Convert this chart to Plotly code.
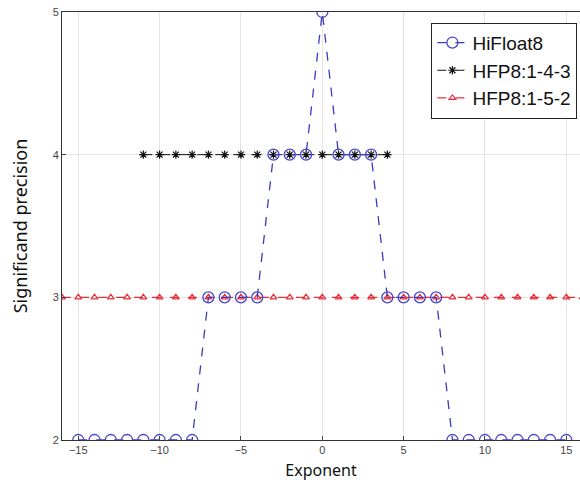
import plotly.graph_objects as go

# Exponent values and significand precision for each 8-bit format
hif8_exp = list(range(-15, 16))
hif8_prec = [2, 2, 2, 2, 2, 2, 2, 2,
             3, 3, 3, 3,
             4, 4, 4,
             5,
             4, 4, 4,
             3, 3, 3, 3,
             2, 2, 2, 2, 2, 2, 2, 2]

e4m3_exp = list(range(-11, 5))
e4m3_prec = [4] * len(e4m3_exp)

e5m2_exp = list(range(-16, 17))
e5m2_prec = [3] * len(e5m2_exp)

x_ticks = [-15, -10, -5, 0, 5, 10, 15]
y_ticks = [2, 3, 4, 5]

fig = go.Figure()

fig.add_trace(go.Scatter(
    x=e5m2_exp, y=e5m2_prec, name="HFP8:1-5-2", mode="lines+markers",
    line=dict(color="#e8303a", width=1.2, dash="dash"),
    marker=dict(symbol="triangle-up-open", size=6, color="#e8303a", line=dict(width=1.2)),
))
fig.add_trace(go.Scatter(
    x=e4m3_exp, y=e4m3_prec, name="HFP8:1-4-3", mode="lines+markers",
    line=dict(color="#111111", width=1, dash="dash"),
    marker=dict(symbol="asterisk-open", size=7, color="#111111", line=dict(width=1.2)),
))
fig.add_trace(go.Scatter(
    x=hif8_exp, y=hif8_prec, name="HiFloat8", mode="lines+markers",
    line=dict(color="#3a3ac0", width=1.3, dash="dash"),
    marker=dict(symbol="circle-open", size=11, color="#4646c8", line=dict(width=1.3)),
))

fig.update_layout(
    width=580, height=486,
    margin=dict(l=62, r=0, t=12, b=46),
    paper_bgcolor="white", plot_bgcolor="white",
    font=dict(family="Liberation Sans, Arial, sans-serif", color="#222222"),
    showlegend=True,
    legend=dict(
        x=0.995, y=0.975, xanchor="right", yanchor="top",
        bgcolor="white", bordercolor="#222222", borderwidth=1,
        font=dict(size=19, family="Liberation Sans, Arial, sans-serif", color="#111111"),
        traceorder="reversed", itemwidth=30, tracegroupgap=0,
    ),
    xaxis=dict(
        range=[-16, 15.84], tickvals=x_ticks,
        ticktext=["\u221215", "\u221210", "\u22125", "0", "5", "10", "15"],
        ticks="inside", ticklen=4, tickcolor="#444444",
        showgrid=True, gridcolor="#e4e4e4", gridwidth=1, zeroline=False,
        showline=True, linecolor="#333333", linewidth=1, mirror=True,
        tickfont=dict(size=11, color="#444444"),
        title=dict(text="Exponent", font=dict(size=16, family="Noto Sans, Open Sans, sans-serif", color="#111111"), standoff=9),
    ),
    yaxis=dict(
        range=[2, 5], tickvals=y_ticks,
        ticks="inside", ticklen=4, tickcolor="#444444",
        showgrid=True, gridcolor="#e4e4e4", gridwidth=1, zeroline=False,
        showline=True, linecolor="#333333", linewidth=1, mirror=True,
        tickfont=dict(size=11, color="#444444"),
        title=dict(text="Significand precision", font=dict(size=18, family="Noto Sans, Open Sans, sans-serif", color="#111111"), standoff=20),
    ),
)

fig.write_html("out.html")
